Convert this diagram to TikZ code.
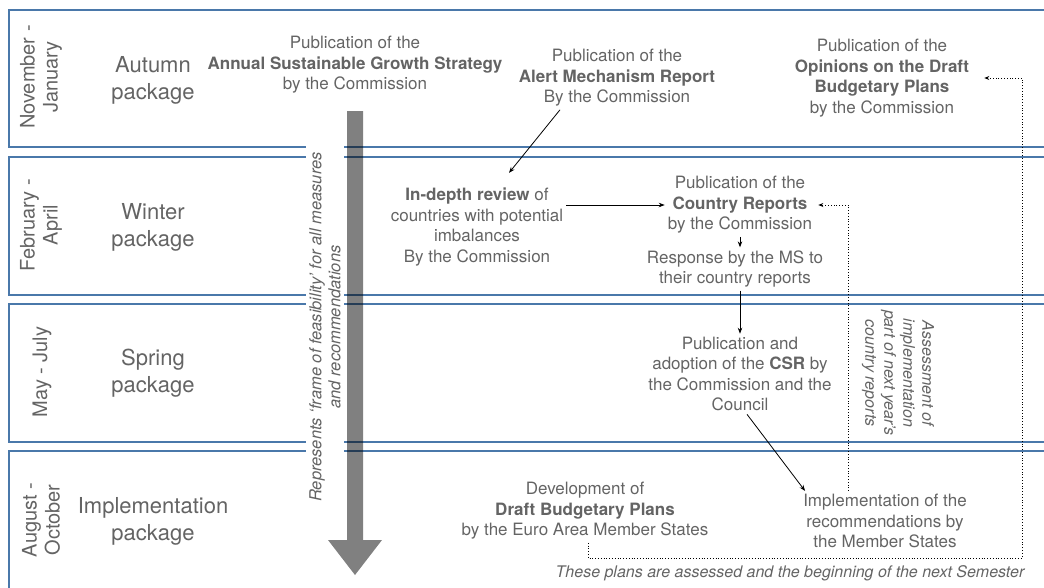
\documentclass[tikz,border=0pt]{standalone}
\usepackage{fontspec}
\setmainfont{TeX Gyre Heros}
\usetikzlibrary{arrows.meta}
\definecolor{txt}{HTML}{646464}
\definecolor{band}{RGB}{74,120,170}
\definecolor{arr}{HTML}{808080}
\begin{document}
\begin{tikzpicture}[x=1pt,y=-1pt,
  body/.style={align=center,text=txt,font=\fontsize{17}{20.5}\selectfont,inner sep=3pt},
  pkg/.style={align=center,text=txt,font=\fontsize{22}{27}\selectfont},
  month/.style={align=center,text=txt,font=\fontsize{20}{23}\selectfont,rotate=90},
  note/.style={align=center,text=txt,font=\fontsize{16}{19}\selectfont\itshape},
  conn/.style={draw=black,line width=0.8pt,-{Stealth[length=6pt,width=4.5pt]}},
  dotconn/.style={draw=black,line width=0.8pt,dotted,-{Stealth[length=5pt,width=4pt]}},
  bandbox/.style={draw=band,line width=1.4pt}]
\useasboundingbox (0,0) rectangle (1044,587);
\clip (0,0) rectangle (1044,587);
% big downward arrow
\fill[arr] (347,111) -- (363,111) -- (363,540) -- (382,540) -- (355,575) -- (328,540) -- (347,540) -- cycle;
% bands
\begin{scope}[blend mode=multiply]
\draw[bandbox] (9,10) rectangle (1060,147);
\draw[bandbox] (9,157) rectangle (1060,295);
\draw[bandbox] (9,304) rectangle (1060,442);
\draw[bandbox] (9,451) rectangle (1060,610);
\end{scope}
% rotated note over the arrow
\node[note, font=\fontsize{16.5}{19}\selectfont\itshape, rotate=90, fill=white, inner xsep=8pt, inner ysep=3pt] (frame) at (325,327) {Represents ‘frame of feasibility’ for all measures\\and recommendations};
% month labels
\node[month] (m1) at (41,77) {November -\\January};
\node[month] (m2) at (41,225) {February -\\April};
\node[month] (m3) at (42,372) {May - July};
\node[month] (m4) at (41,520) {August -\\October};
% package labels
\node[pkg] (p1) at (153,80) {Autumn\\package};
\node[pkg] (p2) at (153,227) {Winter\\package};
\node[pkg] (p3) at (153,373) {Spring\\package};
\node[pkg] (p4) at (153,521) {Implementation\\package};
% content
\node[body] (asgs) at (355,65) {Publication of the\\\textbf{Annual Sustainable Growth Strategy}\\by the Commission};
\node[body] (amr) at (617,78) {Publication of the\\\textbf{Alert Mechanism Report}\\By the Commission};
\node[body] (opin) at (882,78) {Publication of the\\\textbf{Opinions on the Draft}\\\textbf{Budgetary Plans}\\by the Commission};
\node[body] (idr) at (477,227) {\textbf{In-depth review} of\\countries with potential\\imbalances\\By the Commission};
\node[body] (cr) at (740,205) {Publication of the\\\textbf{Country Reports}\\by the Commission};
\node[body] (resp) at (735,269) {Response by the MS to\\their country reports};
\node[body] (csr) at (740,374) {Publication and\\adoption of the \textbf{CSR} by\\the Commission and the\\Council};
\node[body] (impl) at (885,521) {Implementation of the\\recommendations by\\the Member States};
\node[body] (dbp) at (585,511) {Development of\\\textbf{Draft Budgetary Plans}\\by the Euro Area Member States};
\node[note] (semnote) at (790,573) {These plans are assessed and the beginning of the next Semester};
\node[note, rotate=-90] (assess) at (898,373) {Assessment of\\implementation\\part of next year’s\\country reports};
% connectors
\draw[conn] ([xshift=-57pt]amr.south) -- ([xshift=32pt,yshift=12pt]idr.north);
\draw[conn] (idr.east |- cr.west) -- (cr.west);
\draw[conn] (cr.south) -- (cr.south |- resp.north);
\draw[conn] (resp.south -| csr.north) -- (csr.north);
\draw[conn] ([xshift=7pt]csr.south) -- ([xshift=5pt]impl.north west);
\draw[dotconn] ([xshift=-37pt]impl.north) |- ([xshift=3pt]cr.east);
\coordinate (loopBR) at (1022,558);
\draw[dotconn] ([xshift=3pt]dbp.south) |- (loopBR) |- ([xshift=12pt]opin.east);
\end{tikzpicture}
\end{document}
